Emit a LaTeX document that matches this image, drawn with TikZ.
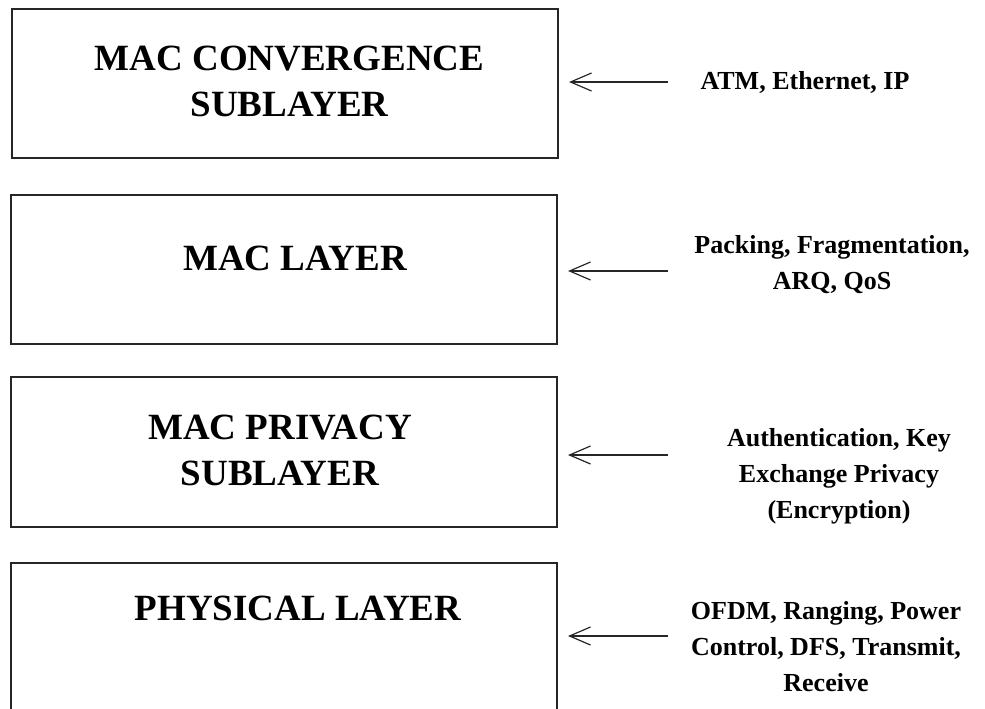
\documentclass[tikz,border=0pt]{standalone}
\usepackage{fontspec}
\setmainfont{Liberation Serif}
\usetikzlibrary{arrows.meta}
\begin{document}
\begin{tikzpicture}[x=1pt,y=-1pt,
  layerbox/.style={draw=black!85, line width=2pt, minimum width=546pt, inner sep=0pt},
  title/.style={font=\fontsize{37}{46}\selectfont\bfseries, align=center, anchor=base, inner sep=0pt},
  info/.style={font=\fontsize{26}{36}\selectfont\bfseries, align=center, anchor=base, inner sep=0pt},
  feed/.style={line width=1.4pt, black!85, shorten >=10pt,
    -{Straight Barb[length=21pt,width=18pt,line width=1.2pt]}}]
\useasboundingbox (0,0) rectangle (985,709);
\fill[white] (0,0) rectangle (985,709);

% the four layers of the stack
\node[layerbox, minimum height=149pt] (b1) at (285,83.5) {};
\node[layerbox, minimum height=149pt] (b2) at (284,269.5) {};
\node[layerbox, minimum height=150pt] (b3) at (284,452) {};
\node[layerbox, minimum height=150pt] (b4) at (284,638) {};

% base anchor sits on the last line of each text
\node[title] (t1) at (289.5,116) {MAC CONVERGENCE\\SUBLAYER};
\node[title] (t2) at (295,270) {MAC LAYER};
\node[title] (t3) at (280,485) {MAC PRIVACY\\SUBLAYER};
\node[title] (t4) at (298,620) {PHYSICAL LAYER};

% what each layer handles
\node[info] (l1) at (805,89) {ATM, Ethernet, IP};
\node[info] (l2) at (832,289) {Packing, Fragmentation,\\ARQ, QoS};
\node[info] (l3) at (839,518) {Authentication, Key\\Exchange Privacy\\(Encryption)};
\node[info] (l4) at (826,691) {OFDM, Ranging, Power\\Control, DFS, Transmit,\\Receive};

\coordinate (s1) at (668,82);
\coordinate (s2) at (668,271);
\coordinate (s3) at (668,455);
\coordinate (s4) at (668,636);

\draw[feed] (s1) -- (s1 -| b1.east);
\draw[feed] (s2) -- (s2 -| b2.east);
\draw[feed] (s3) -- (s3 -| b3.east);
\draw[feed] (s4) -- (s4 -| b4.east);
\end{tikzpicture}
\end{document}
